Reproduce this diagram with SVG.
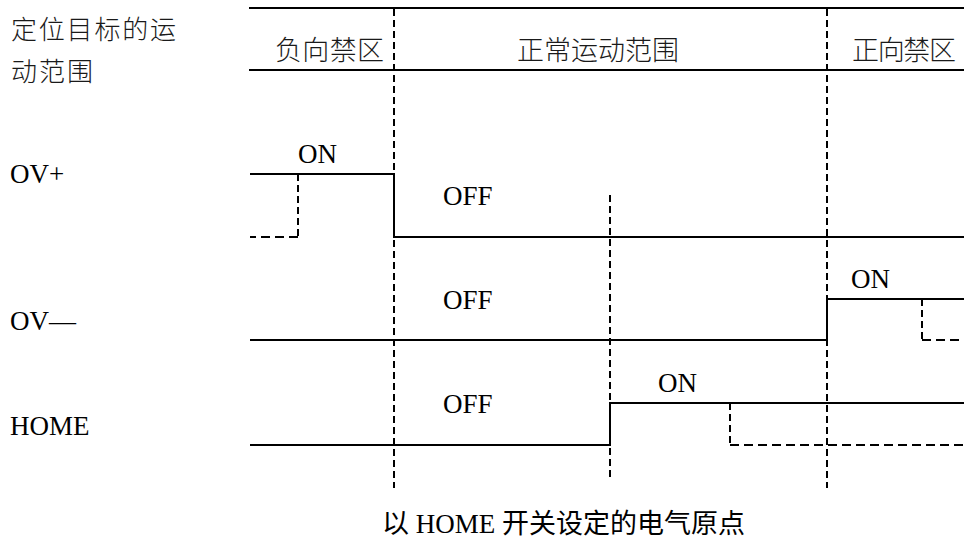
<svg xmlns="http://www.w3.org/2000/svg" width="964" height="547" viewBox="0 0 964 547">
<style>
.t{font-family:"Liberation Serif","Noto Sans CJK SC",serif;font-size:27px;fill:#000}
.c{font-family:"Liberation Serif","Noto Sans CJK SC",sans-serif;font-size:27px;fill:#1a1a1a;font-weight:300}
.s{fill:none;stroke:#000;stroke-width:2}
.dv{fill:none;stroke:#000;stroke-width:2;stroke-dasharray:7 4}
.dh{fill:none;stroke:#000;stroke-width:2;stroke-dasharray:9 5}
</style>
<rect width="964" height="547" fill="#fff"/>
<g id="header">
<line class="s" x1="249" y1="8" x2="964" y2="8"/>
<line class="s" x1="249" y1="70" x2="964" y2="70"/>
<text class="c" x="275" y="60" textLength="109">负向禁区</text>
<text class="c" x="517" y="60" textLength="162">正常运动范围</text>
<text class="c" x="852" y="60" textLength="104">正向禁区</text>
</g>
<g id="labels">
<text class="c" x="11" y="39" style="font-size:26px" textLength="165">定位目标的运</text>
<text class="c" x="11" y="81" style="font-size:26px" textLength="82">动范围</text>
<text class="t" x="10" y="183">OV+</text>
<text class="t" x="10" y="330">OV—</text>
<text class="t" x="10" y="435">HOME</text>
</g>
<g id="ovplus">
<path class="s" d="M250 174 H394 V237 H964"/>
<path class="dv" d="M298 174 V237"/>
<path class="dh" d="M298 237 H250"/>
<text class="t" x="298" y="163">ON</text>
<text class="t" x="443" y="205">OFF</text>
</g>
<g id="ovminus">
<path class="s" d="M250 340 H827 V299 H964"/>
<path class="dv" d="M922 299 V340"/>
<path class="dh" d="M922 340 H964"/>
<text class="t" x="851" y="288">ON</text>
<text class="t" x="443" y="309">OFF</text>
</g>
<g id="home">
<path class="s" d="M250 445 H610 V403 H964"/>
<path class="dv" d="M730 403 V445"/>
<path class="dh" d="M730 445 H964"/>
<text class="t" x="658" y="392">ON</text>
<text class="t" x="443" y="413">OFF</text>
</g>
<g id="connectors">
<line class="dv" x1="394" y1="9" x2="394" y2="488"/>
<line class="dv" x1="827" y1="9" x2="827" y2="488"/>
<line class="dv" x1="610" y1="195" x2="610" y2="481"/>
</g>
<g id="caption">
<text class="t" x="382" y="533">以 HOME 开关设定的电气原点</text>
</g>
</svg>
